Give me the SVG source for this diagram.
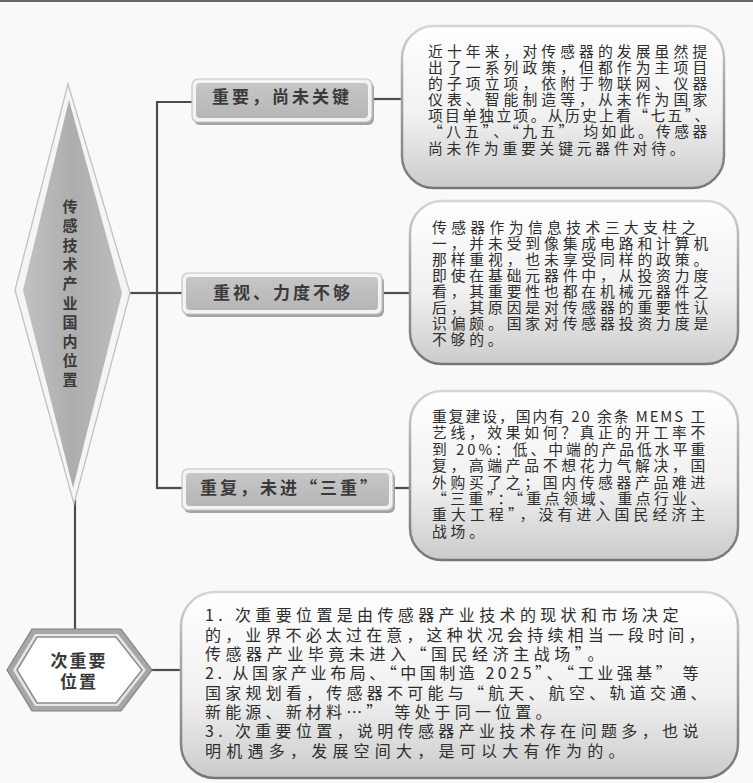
<svg xmlns="http://www.w3.org/2000/svg" width="753" height="783" viewBox="0 0 753 783">
<defs>
<style>
.t{font-family:"Noto Sans CJK SC","Noto Sans",sans-serif;font-size:14.8px;fill:#2e2e2e;letter-spacing:3.8px}
.tb{font-family:"Noto Sans CJK SC","Noto Sans",sans-serif;font-size:16px;fill:#2e2e2e;letter-spacing:3.6px}
.lab{font-family:"Noto Sans CJK SC","Noto Sans",sans-serif;font-size:17px;font-weight:bold;fill:#3a3a3a;letter-spacing:3px;text-anchor:middle}
.vt{font-family:"Noto Sans CJK SC","Noto Sans",sans-serif;font-size:15px;font-weight:bold;fill:#3a3a3a;text-anchor:middle}
.ht{font-family:"Noto Sans CJK SC","Noto Sans",sans-serif;font-size:17px;font-weight:bold;fill:#3a3a3a;text-anchor:middle;letter-spacing:2px}
.conn{stroke:#4d4d4d;stroke-width:2.2;fill:none}
.box{fill:url(#gBox);stroke:url(#gStroke);stroke-width:2.5}
.lo{fill:#f3f3f3;stroke:#c4c4c4;stroke-width:1.2}
.li{fill:url(#gLab)}
.ls{fill:#a3a3a3}
</style>
<linearGradient id="gBox" x1="0" y1="0" x2="0" y2="1">
<stop offset="0" stop-color="#ffffff"/>
<stop offset="0.55" stop-color="#f1f1f1"/>
<stop offset="1" stop-color="#cbcbcb"/>
</linearGradient>
<linearGradient id="gStroke" x1="0" y1="0" x2="0" y2="1">
<stop offset="0" stop-color="#d6d6d6"/>
<stop offset="0.35" stop-color="#a8a8a8"/>
<stop offset="1" stop-color="#777777"/>
</linearGradient>
<linearGradient id="gLab" x1="0" y1="0" x2="0" y2="1">
<stop offset="0" stop-color="#c6c6c6"/>
<stop offset="1" stop-color="#b6b6b6"/>
</linearGradient>
<linearGradient id="gDia" x1="0" y1="0" x2="1" y2="0">
<stop offset="0" stop-color="#c2c2c2"/>
<stop offset="0.5" stop-color="#adadad"/>
<stop offset="1" stop-color="#bdbdbd"/>
</linearGradient>
</defs>
<rect x="0" y="0" width="753" height="783" fill="#f8f9f9"/>
<rect x="0" y="0" width="753" height="2" fill="#6a6a6a"/>

<g id="connectors">
<line class="conn" x1="127" y1="293" x2="157" y2="293"/>
<line class="conn" x1="157" y1="102" x2="157" y2="488"/>
<line class="conn" x1="156" y1="102" x2="193" y2="102"/>
<line class="conn" x1="156" y1="293" x2="183" y2="293"/>
<line class="conn" x1="156" y1="488" x2="183" y2="488"/>
<line class="conn" x1="372" y1="99" x2="403" y2="99"/>
<line class="conn" x1="382" y1="293" x2="411" y2="293"/>
<line class="conn" x1="393" y1="488" x2="411" y2="488"/>
<line class="conn" x1="75" y1="500" x2="75" y2="630"/>
<line class="conn" x1="150" y1="670" x2="181" y2="670"/>
</g>

<g id="root">
<polygon points="68,84 15,290 74,504 130,293" fill="#f5f5f5" stroke="#c2c2c2" stroke-width="1.3"/>
<polygon points="69,100 23,290 73,488 122,293" fill="url(#gDia)"/>
<text class="vt" x="70" y="212">传</text>
<text class="vt" x="70" y="231">感</text>
<text class="vt" x="70" y="251">技</text>
<text class="vt" x="70" y="270">术</text>
<text class="vt" x="70" y="289">产</text>
<text class="vt" x="70" y="309">业</text>
<text class="vt" x="70" y="328">国</text>
<text class="vt" x="70" y="347">内</text>
<text class="vt" x="70" y="366">位</text>
<text class="vt" x="70" y="385">置</text>
</g>

<g id="label1">
<rect class="ls" x="194" y="82" width="180" height="43" rx="6"/>
<rect class="lo" x="192" y="79" width="180" height="43" rx="6"/>
<rect class="li" x="196" y="83" width="172" height="35" rx="4"/>
<text class="lab" x="282" y="103">重要，尚未关键</text>
</g>

<g id="label2">
<rect class="ls" x="184" y="276" width="200" height="41" rx="6"/>
<rect class="lo" x="182" y="273" width="200" height="41" rx="6"/>
<rect class="li" x="186" y="277" width="192" height="33" rx="4"/>
<text class="lab" x="283" y="299">重视、力度不够</text>
</g>

<g id="label3">
<rect class="ls" x="184" y="472" width="211" height="41" rx="6"/>
<rect class="lo" x="182" y="469" width="211" height="41" rx="6"/>
<rect class="li" x="186" y="473" width="203" height="33" rx="4"/>
<text class="lab" x="290" y="494">重复，未进“三重”</text>
</g>

<g id="note1">
<rect class="box" x="402" y="26" width="322" height="162" rx="32"/>
<text class="t" x="428" y="57" textLength="283" lengthAdjust="spacing">近十年来，对传感器的发展虽然提</text>
<text class="t" x="428" y="73" textLength="283" lengthAdjust="spacing">出了一系列政策，但都作为主项目</text>
<text class="t" x="428" y="89" textLength="283" lengthAdjust="spacing">的子项立项，依附于物联网、仪器</text>
<text class="t" x="428" y="105" textLength="283" lengthAdjust="spacing">仪表、智能制造等，从未作为国家</text>
<text class="t" x="428" y="121" textLength="285" lengthAdjust="spacing">项目单独立项。从历史上看“七五”、</text>
<text class="t" x="428" y="137" textLength="283" lengthAdjust="spacing">“八五”、“九五” 均如此。传感器</text>
<text class="t" x="428" y="154">尚未作为重要关键元器件对待。</text>
</g>

<g id="note2">
<rect class="box" x="410" y="201" width="328" height="163" rx="32"/>
<text class="t" x="432" y="233" textLength="268" lengthAdjust="spacing">传感器作为信息技术三大支柱之</text>
<text class="t" x="432" y="249" textLength="280" lengthAdjust="spacing">一，并未受到像集成电路和计算机</text>
<text class="t" x="432" y="265" textLength="280" lengthAdjust="spacing">那样重视，也未享受同样的政策。</text>
<text class="t" x="432" y="281" textLength="280" lengthAdjust="spacing">即使在基础元器件中，从投资力度</text>
<text class="t" x="432" y="297" textLength="280" lengthAdjust="spacing">看，其重要性也都在机械元器件之</text>
<text class="t" x="432" y="313" textLength="280" lengthAdjust="spacing">后，其原因是对传感器的重要性认</text>
<text class="t" x="432" y="329" textLength="280" lengthAdjust="spacing">识偏颇。国家对传感器投资力度是</text>
<text class="t" x="432" y="345">不够的。</text>
</g>

<g id="note3">
<rect class="box" x="410" y="391" width="328" height="169" rx="32"/>
<text class="t" x="432" y="422" textLength="277" lengthAdjust="spacing">重复建设，国内有 20 余条 MEMS 工</text>
<text class="t" x="432" y="438" textLength="277" lengthAdjust="spacing">艺线，效果如何？真正的开工率不</text>
<text class="t" x="432" y="455" textLength="277" lengthAdjust="spacing">到 20%：低、中端的产品低水平重</text>
<text class="t" x="432" y="471" textLength="277" lengthAdjust="spacing">复，高端产品不想花力气解决，国</text>
<text class="t" x="432" y="488" textLength="277" lengthAdjust="spacing">外购买了之；国内传感器产品难进</text>
<text class="t" x="432" y="504" textLength="277" lengthAdjust="spacing">“三重”：“重点领域、重点行业、</text>
<text class="t" x="432" y="520" textLength="277" lengthAdjust="spacing">重大工程”，没有进入国民经济主</text>
<text class="t" x="432" y="537">战场。</text>
</g>

<g id="hexnode">
<polygon points="7,670 32,629 121,629 152,670 121,711 32,711" fill="#a6a6a6" stroke="#828282" stroke-width="1.2"/>
<polygon points="13,670 35,634 118,634 146,670 118,706 35,706" fill="#e6e6e6"/>
<polygon points="17,670 37,637 116,637 142,670 116,703 37,703" fill="#ffffff" stroke="#8c8c8c" stroke-width="1.5"/>
<text class="ht" x="79" y="667">次重要</text>
<text class="ht" x="79" y="688">位置</text>
</g>

<g id="note4">
<rect class="box" x="181" y="592" width="557" height="186" rx="34"/>
<text class="tb" x="205" y="621" textLength="477" lengthAdjust="spacing">1. 次重要位置是由传感器产业技术的现状和市场决定</text>
<text class="tb" x="205" y="641" textLength="503" lengthAdjust="spacing">的，业界不必太过在意，这种状况会持续相当一段时间，</text>
<text class="tb" x="205" y="660" textLength="402" lengthAdjust="spacing">传感器产业毕竟未进入“国民经济主战场”。</text>
<text class="tb" x="205" y="679" textLength="497" lengthAdjust="spacing">2. 从国家产业布局、“中国制造 2025”、“工业强基” 等</text>
<text class="tb" x="205" y="699" textLength="505" lengthAdjust="spacing">国家规划看，传感器不可能与“航天、航空、轨道交通、</text>
<text class="tb" x="205" y="718" textLength="350" lengthAdjust="spacing">新能源、新材料…” 等处于同一位置。</text>
<text class="tb" x="205" y="737" textLength="497" lengthAdjust="spacing">3. 次重要位置，说明传感器产业技术存在问题多，也说</text>
<text class="tb" x="205" y="757" textLength="423" lengthAdjust="spacing">明机遇多，发展空间大，是可以大有作为的。</text>
</g>
</svg>
